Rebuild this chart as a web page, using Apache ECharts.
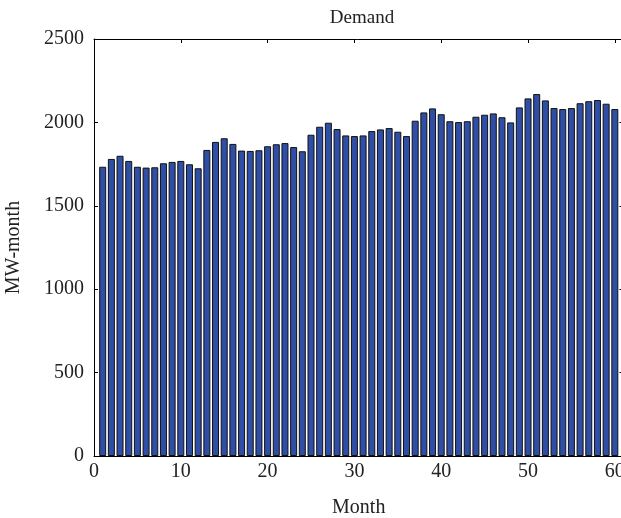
<!DOCTYPE html>
<html>
<head>
<meta charset="utf-8">
<script src="https://cdn.jsdelivr.net/npm/echarts@6/dist/echarts.min.js"></script>
<style>
  html, body { margin: 0; padding: 0; background: #fff; }
  #chart { width: 621px; height: 518px; }
</style>
</head>
<body>
<div id="chart"></div>
<script>
// Monthly demand, months 1..60
const months = Array.from({ length: 60 }, (_, i) => i + 1);
const demand = [
  1734, 1781, 1800, 1769, 1734, 1729, 1731, 1755, 1763, 1769,
  1749, 1725, 1835, 1883, 1905, 1871, 1831, 1829, 1833, 1857,
  1869, 1876, 1852, 1827, 1926, 1974, 1998, 1960, 1922, 1918,
  1922, 1948, 1958, 1966, 1944, 1918, 2010, 2060, 2084, 2049,
  2007, 2002, 2007, 2034, 2046, 2054, 2031, 2000, 2090, 2144,
  2170, 2132, 2086, 2080, 2086, 2115, 2127, 2134, 2112, 2080
];
const xTicks = [0, 10, 20, 30, 40, 50, 60];
const xMax = 61;   // one month of padding after the last bar
const yTicks = [0, 500, 1000, 1500, 2000, 2500];

const font = '"Liberation Serif", "DejaVu Serif", serif';
const textColor = '#222';
const chart = echarts.init(document.getElementById('chart'), null, { renderer: 'canvas' });

const axisCommon = {
  axisLine: { show: true, onZero: false, lineStyle: { color: '#000', width: 1 } },
  axisTick: { show: true, inside: true, length: 4, lineStyle: { color: '#000' } },
  splitLine: { show: false }
};
const plain = v => (xTicks.includes(v) || yTicks.includes(v)) ? String(v) : '';

chart.setOption({
  animation: false,
  backgroundColor: '#fff',
  title: {
    text: 'Demand',
    left: 357, top: 4, textAlign: 'center',
    textStyle: { fontFamily: font, fontSize: 19, fontWeight: 'normal', color: textColor }
  },
  grid: { left: 94, right: -2.5, top: 39, bottom: 62, outerBoundsMode: 'none', containLabel: false },
  xAxis: [{
    type: 'value', min: xTicks[0], max: xMax, interval: 10,
    position: 'bottom',
    name: 'Month', nameLocation: 'middle', nameGap: 42,
    nameTextStyle: { fontFamily: font, fontSize: 20, color: textColor, padding: [0, 0, 0, 0] },
    axisLabel: { fontFamily: font, fontSize: 20, color: textColor, margin: 6, formatter: plain, showMaxLabel: false },
    ...axisCommon
  }, {
    type: 'value', min: xTicks[0], max: xMax, interval: 10,
    position: 'top',
    axisLabel: { show: false },
    ...axisCommon
  }],
  yAxis: [{
    type: 'value', min: yTicks[0], max: yTicks[yTicks.length - 1], interval: 500,
    position: 'left',
    name: 'MW-month', nameLocation: 'middle', nameGap: 70, nameRotate: 90,
    nameTextStyle: { fontFamily: font, fontSize: 20, color: textColor },
    axisLabel: { fontFamily: font, fontSize: 20, color: textColor, margin: 10, formatter: plain },
    ...axisCommon
  }, {
    type: 'value', min: yTicks[0], max: yTicks[yTicks.length - 1], interval: 500,
    position: 'right',
    axisLabel: { show: false },
    ...axisCommon
  }],
  series: [{
    type: 'bar',
    xAxisIndex: 0, yAxisIndex: 0,
    data: months.map((m, i) => [m, demand[i]]),
    barWidth: 7,
    itemStyle: { color: '#2f4ea6', borderColor: '#111', borderWidth: 1 }
  }]
});
</script>
</body>
</html>
